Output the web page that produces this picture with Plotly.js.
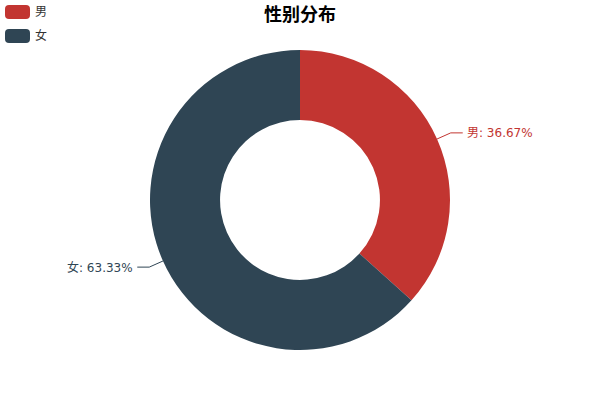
<!DOCTYPE html>
<html><head><meta charset="utf-8">
<script src="https://cdn.plot.ly/plotly-3.0.1.min.js"></script>
<style>html,body{margin:0;padding:0;background:#fff}#chart{width:600px;height:400px}</style>
</head><body><div id="chart"></div>
<script>
var categories = ['男', '女'];
var values = [11, 19];
var colors = ['#c23531', '#2f4554'];
var titleText = '性别分布';

var W = 600, H = 400;
var cx = 300, cy = 200, R = 150, hole = 0.533;
var FONT = '"DejaVu Sans", "Noto Sans CJK SC", sans-serif';
var TFONT = '"Noto Sans CJK SC", "DejaVu Sans", sans-serif';

var total = values.reduce(function(a, b){ return a + b; }, 0);
var shapes = [], annotations = [];
function px(x){ return x / W; }
function py(y){ return 1 - y / H; }

var start = 0;
values.forEach(function(v, i){
  var frac = v / total;
  var mid = start + frac / 2;
  start += frac;
  var ang = Math.PI / 2 - mid * 2 * Math.PI;
  var c = Math.cos(ang), s = Math.sin(ang);
  var x1 = cx + R * c, y1 = cy - R * s;
  var x2 = cx + (R + 15) * c, y2 = cy - (R + 15) * s;
  var dir = c >= 0 ? 1 : -1;
  var x3 = x2 + dir * 12;
  shapes.push({type: 'path', xref: 'paper', yref: 'paper',
    path: 'M' + px(x1) + ',' + py(y1) + ' L' + px(x2) + ',' + py(y2) + ' L' + px(x3) + ',' + py(y2),
    line: {color: colors[i], width: 1}});
  annotations.push({xref: 'paper', yref: 'paper', x: px(x3 + dir * 2), y: py(y2),
    xanchor: dir > 0 ? 'left' : 'right', yanchor: 'middle', showarrow: false,
    text: categories[i] + ': ' + (frac * 100).toFixed(2) + '%',
    font: {family: FONT, size: 12, color: colors[i]}});
});

// legend
categories.forEach(function(cat, i){
  var top = 5 + i * 24, left = 5, w = 25, h = 14, r = 4;
  var p = 'M' + (left + r) + ',' + top + ' L' + (left + w - r) + ',' + top +
    ' Q' + (left + w) + ',' + top + ' ' + (left + w) + ',' + (top + r) +
    ' L' + (left + w) + ',' + (top + h - r) +
    ' Q' + (left + w) + ',' + (top + h) + ' ' + (left + w - r) + ',' + (top + h) +
    ' L' + (left + r) + ',' + (top + h) +
    ' Q' + left + ',' + (top + h) + ' ' + left + ',' + (top + h - r) +
    ' L' + left + ',' + (top + r) +
    ' Q' + left + ',' + top + ' ' + (left + r) + ',' + top + ' Z';
  var conv = p.replace(/(-?[\d.]+),(-?[\d.]+)/g, function(m, a, b){ return px(+a) + ',' + py(+b); });
  shapes.push({type: 'path', xref: 'paper', yref: 'paper', path: conv,
    fillcolor: colors[i], line: {width: 0}});
  annotations.push({xref: 'paper', yref: 'paper', x: px(33), y: py(top + h / 2),
    xanchor: 'left', yanchor: 'middle', showarrow: false, text: cat,
    font: {family: FONT, size: 12, color: '#333'}});
});

var data = [{
  type: 'pie', labels: categories, values: values, hole: hole,
  sort: false, direction: 'clockwise', rotation: 0,
  marker: {colors: colors, line: {width: 0}},
  textinfo: 'none', hoverinfo: 'label+value+percent',
  domain: {x: [0, 1], y: [0.125, 0.875]}
}];

var layout = {
  width: W, height: H, margin: {l: 0, r: 0, t: 0, b: 0},
  paper_bgcolor: '#fff', showlegend: false,
  title: {text: '<b>' + titleText + '</b>', x: 0.5, xanchor: 'center', y: 1 - 15 / H, yanchor: 'middle',
    font: {family: TFONT, size: 18, color: '#000'}},
  shapes: shapes, annotations: annotations
};
Plotly.newPlot('chart', data, layout, {displayModeBar: false, staticPlot: true});
</script></body></html>
